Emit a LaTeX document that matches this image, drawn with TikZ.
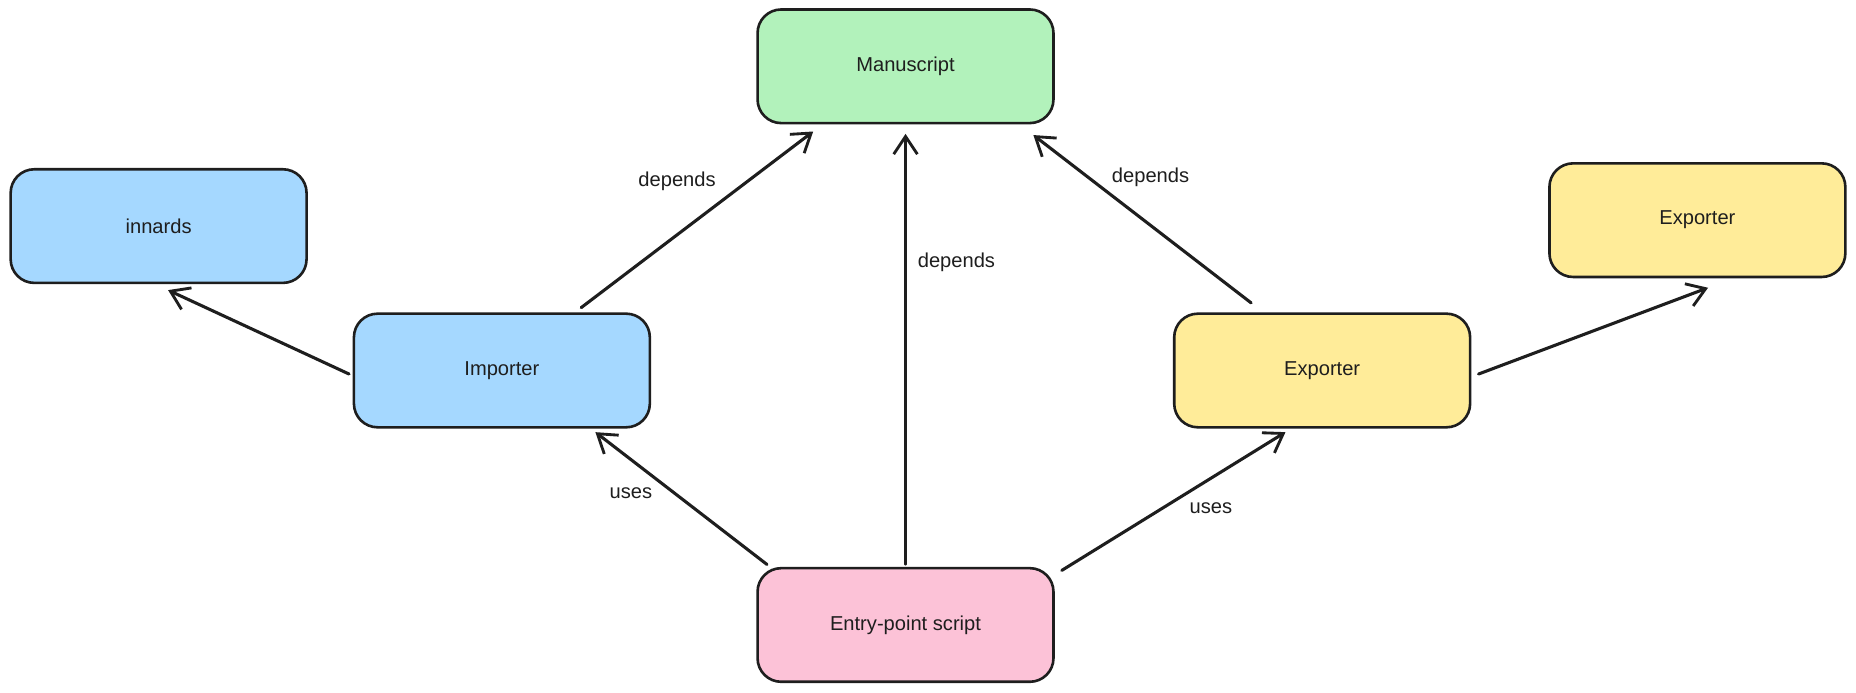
\documentclass[tikz,border=0pt]{standalone}
\usepackage{fontspec}
\setmainfont{Liberation Sans}
\usetikzlibrary{arrows.meta,calc}
\definecolor{ink}{HTML}{1E1E1E}
\definecolor{fgreen}{HTML}{B2F2BB}
\definecolor{fblue}{HTML}{A5D8FF}
\definecolor{fyellow}{HTML}{FFEC99}
\definecolor{fpink}{HTML}{FCC2D7}
\tikzset{
  box/.style={draw=ink, line width=2.2pt, rounded corners=20pt, minimum width=250pt, minimum height=96pt, inner sep=0pt, font=\fontsize{17}{20}\selectfont, text=ink},
  conn/.style={draw=ink, line width=2.6pt, line cap=round, -{Straight Barb[length=15pt,width=20pt,line width=2.4pt]}},
  lbl/.style={font=\fontsize{17}{20}\selectfont, text=ink, inner sep=0pt}
}
\begin{document}
\begin{tikzpicture}[x=1pt,y=-1pt]
\useasboundingbox[fill=white] (0,0) rectangle (1568,585);
\node[box, fill=fgreen]  (man) at (765,56)  {Manuscript};
\node[box, fill=fblue]   (inn) at (134,191) {innards};
\node[box, fill=fblue]   (imp) at (424,313) {Importer};
\node[box, fill=fyellow] (exp) at (1117,313) {Exporter};
\node[box, fill=fyellow] (exr) at (1434,186) {Exporter};
\node[box, fill=fpink]   (ent) at (765,528) {Entry-point script};

\draw[conn] ($(imp.west)+(-3,3)$) -- ($(inn.south)+(8,5)$);
\draw[conn] ($(imp.north)+(67,-4)$) -- ($(man.south)+(-78,6)$);
\draw[conn, line width=2pt] ($(ent.north)+(0,-2)$) -- ($(man.south)+(0,8)$);
\draw[conn] ($(exp.north)+(-60,-8)$) -- ($(man.south)+(108,9)$);
\draw[conn] ($(exp.east)+(6,3)$) -- ($(exr.south)+(9,8)$);
\draw[conn] ($(ent.north)+(-117,-2)$) -- ($(imp.south)+(79,3)$);
\draw[conn] ($(ent.north)+(132,3)$) -- ($(exp.south)+(-31,3)$);

\node[lbl] (l1) at (572,153) {depends};
\node[lbl] (l2) at (808,222) {depends};
\node[lbl] (l3) at (972,150) {depends};
\node[lbl] (l4) at (533,417) {uses};
\node[lbl] (l5) at (1023,429) {uses};
\end{tikzpicture}
\end{document}
